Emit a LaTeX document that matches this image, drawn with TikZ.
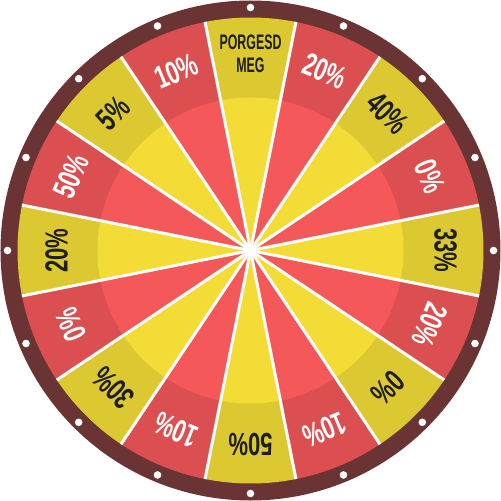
\documentclass[tikz,border=0pt]{standalone}
\usepackage{fontspec}
\setmainfont{Liberation Sans}
\definecolor{ringc}{HTML}{6A3434}
\definecolor{redO}{HTML}{DC4F50}
\definecolor{redI}{HTML}{F45859}
\definecolor{yelO}{HTML}{DCC932}
\definecolor{yelI}{HTML}{F4DC36}
\definecolor{ink}{HTML}{1E1E1E}
\begin{document}
\begin{tikzpicture}[x=1pt,y=1pt,
  pct/.style={font=\bfseries\fontsize{32}{32}\selectfont, inner sep=0pt, anchor=center},
  onred/.style={pct, text=white},
  onyel/.style={pct, text=ink},
  sep/.style={white, line width=3pt},
  dot/.style={white}]
\useasboundingbox (-250.5,-250.5) rectangle (250.5,250.5);
\fill[ringc] (0,0) circle[radius=250];
\foreach \i in {0,...,15}{
  \pgfmathsetmacro\a{90-22.5*\i}
  \pgfmathsetmacro\b{\a+11.25}
  \pgfmathsetmacro\c{\a-11.25}
  \pgfmathtruncatemacro\odd{mod(\i,2)}
  \ifnum\odd=0 \def\co{yelO}\def\ci{yelI}\else \def\co{redO}\def\ci{redI}\fi
  \fill[\co] (0,0) -- (\b:233) arc[start angle=\b, end angle=\c, radius=233] -- cycle;
  \fill[\ci] (0,0) -- (\b:153) arc[start angle=\b, end angle=\c, radius=153] -- cycle;
}
\foreach \i in {0,...,15}{
  \pgfmathsetmacro\a{90-22.5*\i}
  \pgfmathsetmacro\b{\a+11.25}
  \draw[sep] (0,0) -- (\b:233);
  \fill[dot] (\a:243) circle[radius=3.8];
}
\fill[white] (0,0) circle[radius=6];
\node[onyel, font=\bfseries\fontsize{21}{23}\selectfont, align=center] (l0) at (90:196.5) {\scalebox{0.59}[1]{PORGESD}\\\scalebox{0.59}[1]{MEG}};
\node[onred, rotate=-22.5] (l1) at (67.5:194) {\scalebox{0.69}[1]{20\%}};
\node[onyel, rotate=-45] (l2) at (45:194) {\scalebox{0.69}[1]{40\%}};
\node[onred, rotate=-67.5] (l3) at (22.5:194) {\scalebox{0.69}[1]{0\%}};
\node[onyel, rotate=-90] (l4) at (0:195) {\scalebox{0.69}[1]{33\%}};
\node[onred, rotate=-112.5] (l5) at (-22.5:194) {\scalebox{0.69}[1]{20\%}};
\node[onyel, rotate=-135] (l6) at (-45:194) {\scalebox{0.69}[1]{0\%}};
\node[onred, rotate=-157.5] (l7) at (-67.5:194) {\scalebox{0.69}[1]{10\%}};
\node[onyel, rotate=180] (l8) at (-90:194) {\scalebox{0.69}[1]{50\%}};
\node[onred, rotate=157.5] (l9) at (-112.5:194) {\scalebox{0.69}[1]{10\%}};
\node[onyel, rotate=135] (l10) at (-135:194) {\scalebox{0.69}[1]{30\%}};
\node[onred, rotate=112.5] (l11) at (-157.5:194) {\scalebox{0.69}[1]{0\%}};
\node[onyel, rotate=90] (l12) at (180:194) {\scalebox{0.69}[1]{20\%}};
\node[onred, rotate=67.5] (l13) at (157.5:194) {\scalebox{0.69}[1]{50\%}};
\node[onyel, rotate=45] (l14) at (135:194) {\scalebox{0.69}[1]{5\%}};
\node[onred, rotate=22.5] (l15) at (112.5:194) {\scalebox{0.69}[1]{10\%}};
\end{tikzpicture}
\end{document}
